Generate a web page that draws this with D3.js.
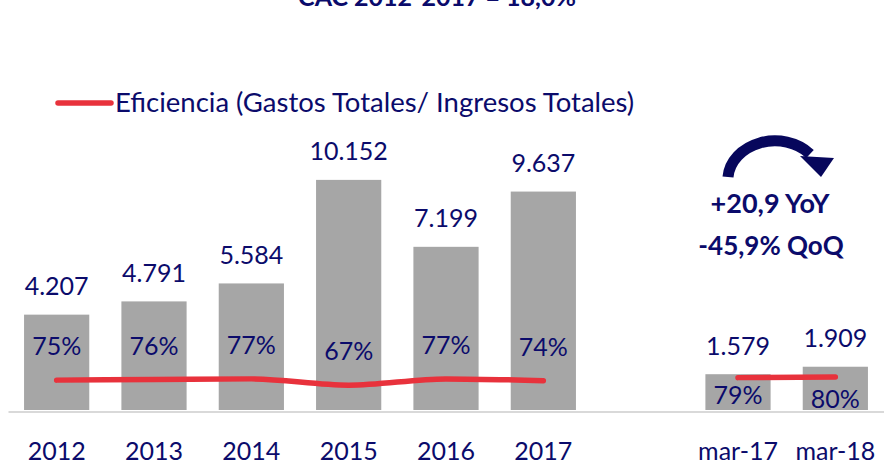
<!DOCTYPE html>
<html>
<head>
<meta charset="utf-8">
<script src="https://cdn.jsdelivr.net/npm/d3@7"></script>
<style>
  body { margin: 0; background: #fff; }
  svg { display: block; font-family: Lato, "Open Sans", sans-serif; }
</style>
</head>
<body>
<div id="chart"></div>
<script>
var svgW = 884;
var svgH = 462;

// data
var categories = ["2012", "2013", "2014", "2015", "2016", "2017", "", "mar-17", "mar-18"];
var gastos = [4207, 4791, 5584, 10152, 7199, 9637, null, 1579, 1909];
var gastosLabels = ["4.207", "4.791", "5.584", "10.152", "7.199", "9.637", "", "1.579", "1.909"];
var eficiencia = [75, 76, 77, 67, 77, 74, null, 79, 80];
var titleText = "CAC 2012-2017 = 18,0%";
var legendText = "Eficiencia (Gastos Totales/ Ingresos Totales)";
var yoyText = "+20,9 YoY";
var qoqText = "-45,9% QoQ";

var navy = "#0b0b6b";
var red = "#e8323c";

var svg = d3.select("#chart")
            .append("svg")
            .attr("width", svgW)
            .attr("height", svgH);

var xScale = d3.scaleBand()
               .domain(categories)
               .range([8, 884])
               .paddingInner(0.33)
               .paddingOuter(0.165);

var yScale = d3.scaleLinear()
               .domain([0, 12000])
               .range([410, 138]);

// the efficiency line has its own flat scale
var effScale = d3.scaleLinear()
                 .domain([0, 100])
                 .range([427, 364.5]);

var data = categories.map((c, i) => ({
    cat: c,
    value: gastos[i],
    label: gastosLabels[i],
    eff: eficiencia[i],
    right: i > 6
}));
var barData = data.filter(d => d.value != null);

// title (cut off at top)
svg.append("text")
   .attr("x", 437)
   .attr("y", 6)
   .attr("text-anchor", "middle")
   .attr("font-size", 25)
   .attr("font-weight", "bold")
   .attr("fill", navy)
   .text(titleText);

// bars
svg.selectAll("rect.bar")
   .data(barData)
   .enter()
   .append("rect")
   .attr("class", "bar")
   .attr("x", d => xScale(d.cat))
   .attr("width", xScale.bandwidth())
   .attr("y", d => yScale(d.value))
   .attr("height", d => yScale(0) - yScale(d.value))
   .attr("fill", "#a6a6a6");

// x axis
var xAxis = d3.axisBottom(xScale).tickSize(0).tickSizeOuter(0);
var axisG = svg.append("g")
               .attr("transform", "translate(0, 411.5)")
               .call(xAxis);
axisG.select(".domain").attr("stroke", "#d9d9d9").attr("stroke-width", 2);
axisG.selectAll("text")
     .attr("dy", null)
     .attr("y", 48.5)
     .attr("font-size", 25)
     .attr("font-family", "Lato, sans-serif")
     .attr("fill", navy);

// efficiency lines (two segments)
var line = d3.line()
             .x(d => xScale(d.cat) + xScale.bandwidth() / 2)
             .y(d => effScale(d.eff))
             .curve(d3.curveMonotoneX);

[data.filter(d => d.eff != null && !d.right), data.filter(d => d.right)].forEach(seg => {
    svg.append("path")
       .datum(seg)
       .attr("d", line)
       .attr("fill", "none")
       .attr("stroke", red)
       .attr("stroke-width", 5.5)
       .attr("stroke-linecap", "round");
});

// value labels above bars
svg.selectAll("text.val")
   .data(barData)
   .enter()
   .append("text")
   .attr("class", "val")
   .attr("x", d => xScale(d.cat) + xScale.bandwidth() / 2)
   .attr("y", d => yScale(d.value) - 19.5)
   .attr("text-anchor", "middle")
   .attr("font-size", 25)
   .attr("fill", navy)
   .text(d => d.label);

// efficiency labels
svg.selectAll("text.eff")
   .data(barData)
   .enter()
   .append("text")
   .attr("class", "eff")
   .attr("x", d => xScale(d.cat) + xScale.bandwidth() / 2)
   .attr("y", d => effScale(d.eff) + (d.right ? (d.cat === "mar-18" ? 31 : 26) : -25))
   .attr("text-anchor", "middle")
   .attr("font-size", 25)
   .attr("fill", navy)
   .text(d => d.eff + "%");

// legend
svg.append("line")
   .attr("x1", 58).attr("x2", 111)
   .attr("y1", 103).attr("y2", 103)
   .attr("stroke", red)
   .attr("stroke-width", 5.5)
   .attr("stroke-linecap", "round");
svg.append("text")
   .attr("x", 115)
   .attr("y", 112)
   .attr("font-size", 27.5)
   .attr("fill", navy)
   .text(legendText);

// curved arrow
svg.append("path")
   .attr("d", "M728,177 A47,39 0 0 1 810,154")
   .attr("fill", "none")
   .attr("stroke", "#07075c")
   .attr("stroke-width", 11);
svg.append("path")
   .attr("d", "M800,156 L834,158 L821,177 Z")
   .attr("fill", "#07075c");

svg.append("text")
   .attr("x", 770)
   .attr("y", 213)
   .attr("text-anchor", "middle")
   .attr("font-size", 27)
   .attr("font-weight", "bold")
   .attr("fill", navy)
   .text(yoyText);
svg.append("text")
   .attr("x", 771)
   .attr("y", 255)
   .attr("text-anchor", "middle")
   .attr("font-size", 26)
   .attr("font-weight", "bold")
   .attr("fill", navy)
   .text(qoqText);
</script>
</body>
</html>
